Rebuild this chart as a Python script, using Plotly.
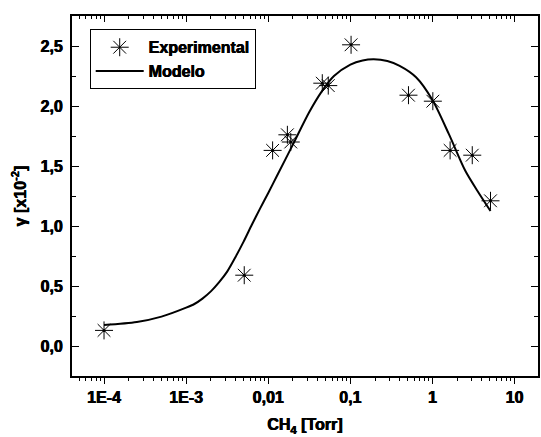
import plotly.graph_objects as go

# Experimental data (CH4 pressure in Torr, gamma x10^-2)
exp_x = [1.0e-4, 0.0051, 0.0113, 0.0171, 0.0188, 0.0455, 0.0538, 0.102, 0.51, 1.01, 1.64, 3.05, 5.09]
exp_y = [0.13, 0.59, 1.63, 1.76, 1.70, 2.19, 2.17, 2.51, 2.09, 2.04, 1.63, 1.59, 1.21]

# Model curve
model_x = [1.0e-4, 2.51e-4, 5.01e-4, 1.0e-3, 1.26e-3, 1.58e-3, 2.0e-3, 2.51e-3, 3.16e-3,
           3.98e-3, 5.01e-3, 6.31e-3, 7.94e-3, 0.01, 0.0126, 0.020, 0.0316, 0.0447,
           0.0631, 0.1, 0.141, 0.193, 0.282, 0.398, 0.631, 1.0, 1.585, 2.51, 3.55, 5.09]
model_y = [0.175, 0.20, 0.245, 0.32, 0.35, 0.395, 0.455, 0.53, 0.62,
           0.74, 0.87, 1.01, 1.145, 1.275, 1.41, 1.68, 1.95, 2.12,
           2.25, 2.345, 2.38, 2.39, 2.375, 2.335, 2.24, 2.05, 1.765, 1.46, 1.29, 1.125]

x_tickvals = [1e-4, 1e-3, 1e-2, 1e-1, 1, 10]
x_ticktext = ["1E-4", "1E-3", "0,01", "0,1", "1", "10"]
y_tickvals = [0.0, 0.5, 1.0, 1.5, 2.0, 2.5]
y_ticktext = ["0,0", "0,5", "1,0", "1,5", "2,0", "2,5"]

minor_vals = [m * 10.0 ** e for e in range(-5, 2) for m in range(2, 10)]

BF = dict(family="Liberation Sans", size=16, color="black", weight=700,
          shadow="0.35px 0 0 black, -0.35px 0 0 black")

fig = go.Figure()
fig.add_trace(go.Scatter(
    x=exp_x, y=exp_y, mode="markers", name="Experimental",
    marker=dict(symbol="asterisk-open", size=15, color="black",
                line=dict(width=1, color="black")),
))
fig.add_trace(go.Scatter(
    x=exp_x, y=exp_y, mode="markers", showlegend=False, hoverinfo="skip",
    marker=dict(symbol="circle", size=3, color="black"),
))
fig.add_trace(go.Scatter(
    x=model_x, y=model_y, mode="lines", name="Modelo",
    line=dict(color="black", width=2, shape="spline", smoothing=0.8),
))
# invisible trace on top axis to activate it
fig.add_trace(go.Scatter(x=[1e-4], y=[0], xaxis="x2", mode="markers",
                         marker=dict(opacity=0), showlegend=False, hoverinfo="skip"))

xr = [-4.39, 1.285]
fig.update_layout(
    width=541, height=437,
    margin=dict(l=72, r=1, t=16, b=61),
    paper_bgcolor="white", plot_bgcolor="white",
    font=BF,
    showlegend=True,
    legend=dict(x=0.038, y=0.963, xanchor="left", yanchor="top",
                bordercolor="black", borderwidth=1, bgcolor="white",
                font=BF, itemwidth=48, tracegroupgap=0),
    xaxis=dict(
        type="log", range=xr, tickmode="array", tickvals=x_tickvals, ticktext=x_ticktext,
        tickfont=BF,
        ticks="outside", ticklen=6, tickwidth=1, tickcolor="black",
        showline=True, linecolor="black", linewidth=2, showgrid=False, zeroline=False,
        minor=dict(tickmode="array", tickvals=minor_vals, ticks="outside", ticklen=3,
                   tickwidth=1, tickcolor="black", showgrid=False),
        title=dict(text="CH<sub>4</sub> [Torr]", standoff=14, font=BF),
    ),
    xaxis2=dict(
        type="log", range=xr, overlaying="x", side="top", anchor="y",
        tickmode="array", tickvals=x_tickvals, showticklabels=False,
        ticks="inside", ticklen=6, tickwidth=1, tickcolor="black",
        showline=True, linecolor="black", linewidth=2, showgrid=False, zeroline=False,
        minor=dict(tickmode="array", tickvals=minor_vals, ticks="inside", ticklen=3,
                   tickwidth=1, tickcolor="black", showgrid=False),
    ),
    yaxis=dict(
        range=[-0.25, 2.75], tickmode="array", tickvals=y_tickvals, ticktext=y_ticktext,
        tickfont=BF,
        ticks="inside", ticklen=7, tickwidth=1, tickcolor="black", mirror="ticks",
        showline=True, linecolor="black", linewidth=2, showgrid=False, zeroline=False,
        minor=dict(dtick=0.25, tick0=0, ticks="inside", ticklen=4, tickwidth=1,
                   tickcolor="black", showgrid=False),
        ticklabelstandoff=4,
        title=dict(text="\u03b3 [x10<sup>-2</sup>]", standoff=10, font=BF),
    ),
)

fig.write_html("out.html")
